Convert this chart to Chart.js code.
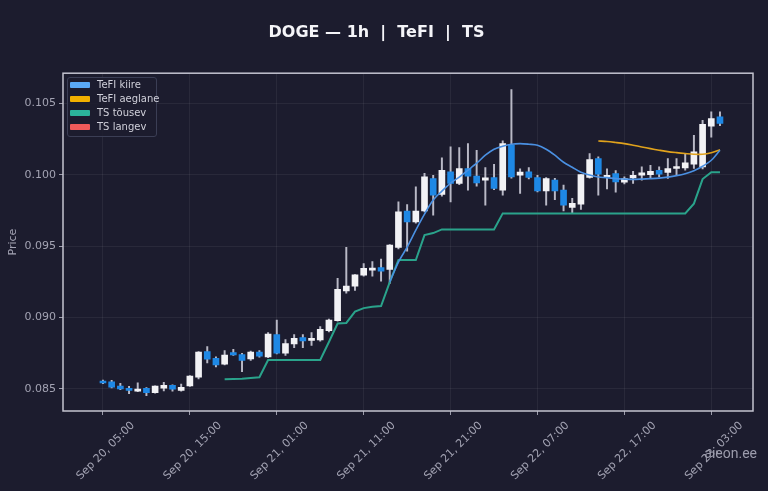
<!DOCTYPE html>
<html>
<head>
<meta charset="utf-8">
<title>DOGE — 1h | TeFI | TS</title>
<script src="https://cdn.jsdelivr.net/npm/chart.js@4.4.1/dist/chart.umd.min.js"></script>
<style>
    html, body { margin: 0; padding: 0; background: #1c1c2e; }
    #wrap { position: relative; width: 768px; height: 491px; }
    #legend {
        position: absolute; left: 67px; top: 77px; width: 86px;
        padding: 0 0 2px 2px; border: 1px solid #3b3e55; border-radius: 3px;
        background: rgba(28, 28, 46, 0.85);
        font: 10px "DejaVu Sans", sans-serif; color: #d0d0da;
    }
    #legend .item { height: 14px; line-height: 14px; white-space: nowrap; }
    #legend .swatch { display: inline-block; width: 20px; height: 6px; margin-right: 7px; vertical-align: 0; border-radius: 1px; }
    #watermark {
        position: absolute; right: 11px; top: 445px;
        font: 14px Roboto, sans-serif; color: #9c9cac;
    }
</style>
</head>
<body>
<div id="wrap">
    <canvas id="chart" width="768" height="491"></canvas>
    <div id="legend"></div>
    <div id="watermark">aieon.ee</div>
</div>
<script>
// Hourly candles, Sep 20 05:00 -> Sep 23 04:00
const opens = [
    0.08552, 0.08550, 0.08520, 0.08502, 0.08485, 0.08505, 0.08474, 0.08505, 0.08526, 0.08490,
    0.08521, 0.08582, 0.08761, 0.08715, 0.08673, 0.08754, 0.08740, 0.08710, 0.08759, 0.08725,
    0.08880, 0.08750, 0.08815, 0.08860, 0.08840, 0.08843, 0.08908, 0.08978, 0.09187, 0.09220,
    0.09297, 0.09332, 0.09350, 0.09337, 0.09491, 0.09745, 0.09670, 0.09747, 0.09973, 0.09862,
    0.10020, 0.09938, 0.10043, 0.09990, 0.09961, 0.09980, 0.09892, 0.10206, 0.09996, 0.10020,
    0.09980, 0.09887, 0.09962, 0.09892, 0.09770, 0.09794, 0.09980, 0.10113, 0.09982, 0.10008,
    0.09948, 0.09978, 0.09996, 0.10000, 0.10030, 0.10015, 0.10043, 0.10048, 0.10073, 0.10055,
    0.10339, 0.10404
];
const highs = [
    0.08562, 0.08561, 0.08540, 0.08518, 0.08544, 0.08510, 0.08522, 0.08547, 0.08530, 0.08535,
    0.08594, 0.08762, 0.08796, 0.08725, 0.08768, 0.08778, 0.08750, 0.08765, 0.08768, 0.08895,
    0.08983, 0.08845, 0.08880, 0.08880, 0.08895, 0.08937, 0.08990, 0.09274, 0.09491, 0.09300,
    0.09378, 0.09392, 0.09410, 0.09510, 0.09810, 0.09790, 0.09914, 0.10010, 0.09995, 0.10117,
    0.10194, 0.10190, 0.10218, 0.10171, 0.10050, 0.10073, 0.10236, 0.10596, 0.10040, 0.10050,
    0.09995, 0.09980, 0.09975, 0.09927, 0.09834, 0.10000, 0.10148, 0.10125, 0.10040, 0.10028,
    0.09985, 0.10024, 0.10055, 0.10066, 0.10055, 0.10113, 0.10113, 0.10148, 0.10276, 0.10381,
    0.10439, 0.10439
];
const lows = [
    0.08538, 0.08507, 0.08496, 0.08467, 0.08482, 0.08453, 0.08470, 0.08487, 0.08485, 0.08485,
    0.08518, 0.08570, 0.08682, 0.08655, 0.08668, 0.08735, 0.08621, 0.08700, 0.08722, 0.08720,
    0.08745, 0.08735, 0.08790, 0.08790, 0.08805, 0.08835, 0.08900, 0.08975, 0.09170, 0.09190,
    0.09290, 0.09290, 0.09255, 0.09239, 0.09480, 0.09465, 0.09660, 0.09740, 0.09717, 0.09850,
    0.09810, 0.09930, 0.09892, 0.09920, 0.09787, 0.09895, 0.09857, 0.09975, 0.09869, 0.09970,
    0.09880, 0.09787, 0.09825, 0.09747, 0.09730, 0.09757, 0.09975, 0.09857, 0.09900, 0.09877,
    0.09935, 0.09938, 0.09962, 0.09973, 0.09985, 0.09973, 0.09997, 0.10031, 0.10043, 0.10040,
    0.10262, 0.10343
];
const closes = [
    0.08542, 0.08512, 0.08500, 0.08490, 0.08500, 0.08474, 0.08520, 0.08526, 0.08498, 0.08512,
    0.08591, 0.08759, 0.08708, 0.08668, 0.08738, 0.08738, 0.08700, 0.08759, 0.08730, 0.08885,
    0.08750, 0.08817, 0.08855, 0.08836, 0.08849, 0.08917, 0.08983, 0.09197, 0.09220, 0.09299,
    0.09344, 0.09346, 0.09325, 0.09507, 0.09740, 0.09670, 0.09745, 0.09985, 0.09857, 0.10031,
    0.09938, 0.10043, 0.09990, 0.09943, 0.09977, 0.09903, 0.10218, 0.09985, 0.10018, 0.09980,
    0.09887, 0.09973, 0.09887, 0.09787, 0.09799, 0.10000, 0.10106, 0.10003, 0.09995, 0.09950,
    0.09973, 0.09996, 0.10012, 0.10024, 0.10003, 0.10043, 0.10055, 0.10083, 0.10160, 0.10353,
    0.10393, 0.10358
];

// TeFI kiire starts at candle 33, TeFI aeglane at 57, TS tõusev at 14
const tefiFastStart = 33;
const tefiFast = [
    0.09248, 0.09388, 0.09493, 0.09612, 0.09724, 0.09822, 0.09885, 0.09941, 0.09983, 0.10031,
    0.10080, 0.10136, 0.10178, 0.10199, 0.10213, 0.10217, 0.10213, 0.10206, 0.10178, 0.10136,
    0.10087, 0.10052, 0.10017, 0.09997, 0.09983, 0.09979, 0.09972, 0.09969, 0.09967, 0.09969,
    0.09972, 0.09976, 0.09983, 0.09993, 0.10007, 0.10028, 0.10059, 0.10101, 0.10171
];
const tefiSlowStart = 57;
const tefiSlow = [
    0.10236, 0.10232, 0.10225, 0.10217, 0.10206, 0.10194, 0.10182, 0.10171, 0.10161, 0.10154,
    0.10148, 0.10143, 0.10143, 0.10154, 0.10175
];
const tsUpStart = 14;
const tsUp = [
    0.08568, 0.08570, 0.08572, 0.08577, 0.08582, 0.08703, 0.08703, 0.08703, 0.08703, 0.08703,
    0.08703, 0.08703, 0.08829, 0.08958, 0.08962, 0.09041, 0.09066, 0.09076, 0.09080, 0.09248,
    0.09402, 0.09402, 0.09402, 0.09577, 0.09591, 0.09617, 0.09617, 0.09617, 0.09617, 0.09617,
    0.09617, 0.09617, 0.09729, 0.09729, 0.09729, 0.09729, 0.09729, 0.09729, 0.09729, 0.09729,
    0.09729, 0.09729, 0.09729, 0.09729, 0.09729, 0.09729, 0.09729, 0.09729, 0.09729, 0.09729,
    0.09729, 0.09729, 0.09729, 0.09729, 0.09797, 0.09969, 0.10017, 0.10017
];
const tsDown = []; // no falling segments in this window

const xTickIndex = [0, 10, 20, 30, 40, 50, 60, 70];
const xTickLabels = ['Sep 20, 05:00', 'Sep 20, 15:00', 'Sep 21, 01:00', 'Sep 21, 11:00',
    'Sep 21, 21:00', 'Sep 22, 07:00', 'Sep 22, 17:00', 'Sep 23, 03:00'];
const yTicks = [0.085, 0.090, 0.095, 0.100, 0.105];

const UP = '#f2f2f5';
const DOWN = '#1e88e5';
const FONT = '"DejaVu Sans", sans-serif';
const AXIS_TEXT = '#a3a3b3';

const toPoints = (start, values) => values.map((v, k) => ({ x: start + k, y: v }));

const bodies = opens.map((o, i) => ({ x: i, y: [o, closes[i]] }));
const wicks = lows.map((l, i) => ({ x: i, y: [l, highs[i]] }));
const bodyColors = opens.map((o, i) => (closes[i] >= o ? UP : DOWN));

// frame around the plot area
const framePlugin = {
    id: 'frame',
    afterDatasetsDraw(chart) {
        const { ctx, chartArea: a } = chart;
        ctx.save();
        ctx.strokeStyle = '#c4c4d0';
        ctx.lineWidth = 1.5;
        ctx.strokeRect(a.left, a.top, a.right - a.left, a.bottom - a.top);
        ctx.restore();
    }
};

const chart = new Chart(document.getElementById('chart'), {
    type: 'bar',
    data: {
        datasets: [
            {
                type: 'line', label: 'TeFI kiire', data: toPoints(tefiFastStart, tefiFast),
                borderColor: '#4a90e2', backgroundColor: '#5aa9f7', borderWidth: 1.6,
                pointRadius: 0, tension: 0.3, order: 0
            },
            {
                type: 'line', label: 'TeFI aeglane', data: toPoints(tefiSlowStart, tefiSlow),
                borderColor: '#e0a21c', backgroundColor: '#f2b000', borderWidth: 1.6,
                pointRadius: 0, tension: 0.3, order: 0
            },
            {
                type: 'line', label: 'TS tõusev', data: toPoints(tsUpStart, tsUp),
                borderColor: '#2aa38b', backgroundColor: '#2bb39a', borderWidth: 2,
                pointRadius: 0, tension: 0, order: 0
            },
            {
                type: 'line', label: 'TS langev', data: tsDown,
                borderColor: '#ef5350', backgroundColor: '#f05a5a', borderWidth: 2,
                pointRadius: 0, order: 0
            },
            {
                label: 'wick', data: wicks, backgroundColor: '#b9b9c6',
                barThickness: 1.3, grouped: false, order: 3
            },
            {
                label: 'body', data: bodies, backgroundColor: bodyColors,
                barThickness: 6, minBarLength: 2, grouped: false, order: 2
            }
        ]
    },
    options: {
        responsive: false,
        animation: false,
        layout: { padding: { left: 0, right: 15, top: 0, bottom: 0 } },
        plugins: {
            legend: { display: false },
            tooltip: { enabled: false },
            title: {
                display: true,
                text: 'DOGE — 1h  |  TeFI  |  TS',
                color: '#f4f4f8',
                font: { family: FONT, size: 16, weight: 'bold' },
                padding: { top: 23, bottom: 31 }
            }
        },
        scales: {
            x: {
                type: 'linear',
                min: -4.6,
                max: 74.8,
                offset: false,
                afterBuildTicks: (scale) => { scale.ticks = xTickIndex.map(v => ({ value: v })); },
                afterFit: (scale) => { scale.height = 80; },
                ticks: {
                    autoSkip: false,
                    minRotation: 45,
                    maxRotation: 45,
                    labelOffset: 30,
                    padding: 4,
                    color: AXIS_TEXT,
                    font: { family: FONT, size: 11 },
                    callback: (v) => xTickLabels[xTickIndex.indexOf(v)]
                },
                grid: { offset: false, color: 'rgba(255,255,255,0.06)', tickColor: '#9c9cab', tickLength: 4 },
                border: { display: false }
            },
            y: {
                min: 0.08346,
                max: 0.1071,
                afterBuildTicks: (scale) => { scale.ticks = yTicks.map(v => ({ value: v })); },
                afterFit: (scale) => { scale.width = 63; },
                ticks: {
                    color: AXIS_TEXT,
                    padding: 3,
                    font: { family: FONT, size: 11 },
                    callback: (v) => v.toFixed(3)
                },
                title: {
                    display: true, text: 'Price', color: AXIS_TEXT,
                    font: { family: FONT, size: 11 }, padding: { top: 7, bottom: 0 }
                },
                grid: { color: 'rgba(255,255,255,0.06)', tickColor: '#9c9cab', tickLength: 4 },
                border: { display: false }
            }
        }
    },
    plugins: [framePlugin]
});

// HTML legend built from the line datasets
const legendBox = document.getElementById('legend');
chart.data.datasets
    .filter(ds => ds.type === 'line')
    .forEach(ds => {
        const item = document.createElement('div');
        item.className = 'item';
        const swatch = document.createElement('span');
        swatch.className = 'swatch';
        swatch.style.background = ds.backgroundColor;
        item.appendChild(swatch);
        item.appendChild(document.createTextNode(ds.label));
        legendBox.appendChild(item);
    });
</script>
</body>
</html>
